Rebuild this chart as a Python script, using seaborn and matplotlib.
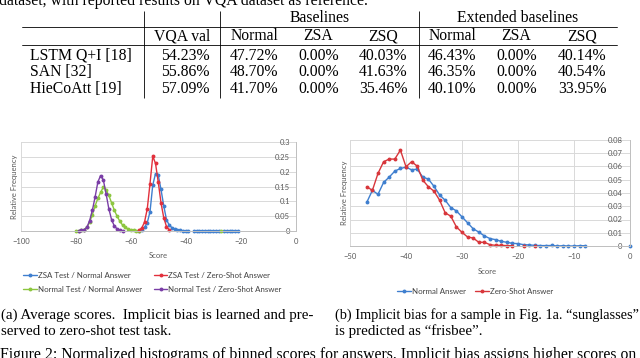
import matplotlib
matplotlib.use("Agg")
import matplotlib.pyplot as plt
import seaborn as sns
import numpy as np
import pandas as pd

# ---------------- table at the top of the page ----------------
row_names = ["LSTM Q+I [18]", "SAN [32]", "HieCoAtt [19]"]
col_names = ["VQA val", "Normal", "ZSA", "ZSQ", "Normal", "ZSA", "ZSQ"]
vqa_val = ["54.23%", "55.86%", "57.09%"]
base_normal = ["47.72%", "48.70%", "41.70%"]
base_zsa = ["0.00%", "0.00%", "0.00%"]
base_zsq = ["40.03%", "41.63%", "35.46%"]
ext_normal = ["46.43%", "46.35%", "40.10%"]
ext_zsa = ["0.00%", "0.00%", "0.00%"]
ext_zsq = ["40.14%", "40.54%", "33.95%"]

# ---------------- (a) average scores ----------------
a_labels = ["ZSA Test / Normal Answer", "Normal Test / Normal Answer",
            "ZSA Test / Zero-Shot Answer", "Normal Test / Zero-Shot Answer"]
a_colors = ["#3f7fcf", "#8cc63f", "#e2303c", "#7a3ea6"]

a_zsa_normal_x = list(range(-57, -38)) + list(range(-37, -27)) + list(range(-26, -20))
a_zsa_normal_y = [0.001, 0.004, 0.012, 0.028, 0.065, 0.155, 0.193, 0.188, 0.140, 0.085,
                  0.038, 0.020, 0.011, 0.006, 0.003, 0.002, 0.001, 0.001, 0.0005,
                  0.001, 0.0005, 0.0, 0.001, 0.0005, 0.0, 0.0005, 0.0, 0.0005, 0.0,
                  0.0005, 0.0, 0.0005, 0.0, 0.0005, 0.0]
a_normal_normal_x = list(range(-80, -56)) + [-27]
a_normal_normal_y = [0.0, 0.001, 0.002, 0.005, 0.012, 0.030, 0.055, 0.085, 0.110, 0.130,
                     0.148, 0.138, 0.120, 0.095, 0.070, 0.050, 0.033, 0.020, 0.012, 0.007,
                     0.004, 0.002, 0.001, 0.0, 0.0]
a_zsa_zs_x = list(range(-57, -45))
a_zsa_zs_y = [0.003, 0.010, 0.030, 0.075, 0.160, 0.252, 0.228, 0.165, 0.095, 0.045,
              0.015, 0.004]
a_normal_zs_x = list(range(-79, -62))
a_normal_zs_y = [0.001, 0.002, 0.004, 0.012, 0.035, 0.070, 0.115, 0.165, 0.187, 0.172,
                 0.125, 0.075, 0.038, 0.017, 0.007, 0.003, 0.001]

# ---------------- (b) single sample ----------------
b_labels = ["Normal Answer", "Zero-Shot Answer"]
b_colors = ["#3f7fcf", "#d8363b"]
b_normal_x = list(range(-47, -7)) + [0]
b_normal_y = [0.033, 0.042, 0.039, 0.048, 0.052, 0.0565, 0.0585, 0.0595, 0.0575, 0.058,
              0.052, 0.0505, 0.045, 0.0385, 0.0345, 0.029, 0.0265, 0.022, 0.0175, 0.013,
              0.0105, 0.0076, 0.0056, 0.0048, 0.0035, 0.0028, 0.002, 0.0018, 0.001, 0.0008,
              0.0005, 0.0003, 0.0003, 0.0004, 0.0, 0.0002, 0.0, 0.0, 0.0002, 0.0002,
              0.0]
b_zs_x = list(range(-47, -20)) + [-19, -17]
b_zs_y = [0.0447, 0.042, 0.0548, 0.0636, 0.0656, 0.0656, 0.0724, 0.0598, 0.0636, 0.0603,
          0.0497, 0.0447, 0.0414, 0.0346, 0.025, 0.0225, 0.0144, 0.0103, 0.0068, 0.006,
          0.0028, 0.0028, 0.001, 0.0005, 0.0005, 0.0003, 0.0002, 0.0002, 0.0]


def to_frame(xs, ys, labels):
    parts = []
    for x, y, lab in zip(xs, ys, labels):
        d = pd.DataFrame({"score": x, "freq": y, "series": lab})
        # break the line where bins are missing
        d["seg"] = np.cumsum(np.r_[0, np.diff(d["score"]) > 1])
        parts.append(d)
    return pd.concat(parts, ignore_index=True)


df_a = to_frame([a_zsa_normal_x, a_normal_normal_x, a_zsa_zs_x, a_normal_zs_x],
                [a_zsa_normal_y, a_normal_normal_y, a_zsa_zs_y, a_normal_zs_y], a_labels)
df_b = to_frame([b_normal_x, b_zs_x], [b_normal_y, b_zs_y], b_labels)

sns.set_style("white")
plt.rcParams["font.family"] = ["Lato", "DejaVu Sans"]

W, H = 640, 358
fig = plt.figure(figsize=(6.4, 3.58), dpi=100)

# page layer in pixel coordinates for the paper text
page = fig.add_axes([0, 0, 1, 1], zorder=-1)
page.set_xlim(0, W)
page.set_ylim(H, 0)
page.axis("off")
serif = dict(family=["Liberation Serif", "DejaVu Serif"], fontsize=11.3, color="black")
cap = dict(serif, fontsize=10.8)

page.text(-1, 5, "dataset, with reported results on VQA dataset as reference.", va="baseline", **serif)
page.text(320, 22, "Baselines", ha="center", va="baseline", **serif)
page.text(517.5, 22, "Extended baselines", ha="center", va="baseline", **serif)
page.plot([22, 617], [27, 27], color="black", lw=0.6)
page.plot([22, 617], [45, 45], color="black", lw=0.6)
page.vlines([144, 220, 419], 11, 98, color="black", lw=0.6)

col_x = [210, 254, 318.5, 383, 452.5, 516.5, 582]
col_ha = ["right"] + ["center"] * 6
columns = [vqa_val, base_normal, base_zsa, base_zsq, ext_normal, ext_zsa, ext_zsq]
for name, cx, ha in zip(col_names, col_x, col_ha):
    page.text(cx, 40.5, name, ha=ha, va="baseline", **serif)
row_y = [60, 76.5, 93]
for i, ry in enumerate(row_y):
    page.text(30, ry, row_names[i], ha="left", va="baseline", **serif)
    for col, cx, ha in zip(columns, col_x, col_ha):
        page.text(cx, ry, col[i], ha=ha, va="baseline", **serif)

page.text(1, 319, "(a) Average scores.  Implicit bias is learned and pre-", va="baseline", **cap)
page.text(1, 335, "served to zero-shot test task.", va="baseline", **cap)
page.text(335, 319, "(b) Implicit bias for a sample in Fig. 1a. \u201csunglasses\u201d", va="baseline",
          **dict(cap, fontsize=10.3))
page.text(335, 335, "is predicted as \u201cfrisbee\u201d.", va="baseline", **cap)
page.text(0, 359, "Figure 2: Normalized histograms of binned scores for answers. Implicit bias assigns higher scores on",
          va="baseline", **dict(cap, fontsize=11.3))

txt = "#595959"
fs = 5.5
leg_fs = 5.7


def style_chart(ax, xticks, yticks, ypad, vgrid):
    ax.set_xticks(xticks)
    ax.set_yticks(yticks)
    ax.set_yticklabels([f"{round(v, 3):g}" for v in yticks])
    ax.yaxis.tick_right()
    ax.tick_params(axis="both", length=0, labelsize=fs, labelcolor=txt)
    ax.tick_params(axis="x", pad=5)
    ax.tick_params(axis="y", pad=ypad)
    for t in ax.yaxis.get_major_ticks():
        t.label2.set_horizontalalignment("right")
    ax.grid(axis="y", color="#d9d9d9", lw=0.7)
    if vgrid:
        ax.grid(axis="x", color="#d9d9d9", lw=0.7)
    ax.set_axisbelow(True)
    ax.spines["top"].set_visible(False)
    ax.spines["left"].set_color("#d9d9d9")
    ax.spines["right"].set_color("#bfbfbf")
    ax.spines["bottom"].set_color("#bfbfbf")
    for s in ax.spines.values():
        s.set_linewidth(0.7)


# ---- chart (a) ----
ax_a = fig.add_axes([21 / W, 1 - 231 / H, 274.5 / W, 89 / H])
sns.lineplot(data=df_a, x="score", y="freq", hue="series", hue_order=a_labels,
             palette=dict(zip(a_labels, a_colors)), units="seg", estimator=None,
             marker="o", markersize=2.8, markeredgewidth=0, linewidth=1.0,
             clip_on=False, ax=ax_a)
ax_a.set_xlim(-100, 0)
ax_a.set_ylim(0, 0.3)
style_chart(ax_a, range(-100, 1, 20), np.arange(0, 0.301, 0.05), -4, False)
ax_a.set_xlabel("Score", fontsize=fs, color=txt, va="center")
ax_a.xaxis.set_label_coords(0.5, -24 / 89)
ax_a.set_ylabel("Relative Frequency", fontsize=fs, color=txt, va="center")
ax_a.yaxis.set_label_coords(-6 / 274.5, 0.5)
sns.move_legend(ax_a, "upper left", bbox_to_anchor=(23 / W, 1 - 272 / H),
                bbox_transform=fig.transFigure, ncol=2, frameon=False, title=None,
                fontsize=leg_fs, labelcolor="#404040", handlelength=1.75, handletextpad=0.1,
                labelspacing=0.85, columnspacing=1.5, borderpad=0, borderaxespad=0)

# ---- chart (b) ----
ax_b = fig.add_axes([350 / W, 1 - 246 / H, 280 / W, 106 / H])
sns.lineplot(data=df_b, x="score", y="freq", hue="series", hue_order=b_labels,
             palette=dict(zip(b_labels, b_colors)), units="seg", estimator=None,
             marker="o", markersize=2.8, markeredgewidth=0, linewidth=1.0,
             clip_on=False, ax=ax_b)
ax_b.set_xlim(-50, 0)
ax_b.set_ylim(0, 0.08)
style_chart(ax_b, range(-50, 1, 10), np.arange(0, 0.0801, 0.01), -5.5, True)
ax_b.set_xlabel("Score", fontsize=fs, color=txt, va="center")
ax_b.xaxis.set_label_coords((487 - 350) / 280, -25 / 106)
ax_b.set_ylabel("Relative Frequency", fontsize=fs, color=txt, va="center")
ax_b.yaxis.set_label_coords(-5 / 280, 0.5)
sns.move_legend(ax_b, "upper left", bbox_to_anchor=(397 / W, 1 - 288 / H),
                bbox_transform=fig.transFigure, ncol=2, frameon=False, title=None,
                fontsize=leg_fs, labelcolor="#404040", handlelength=1.75, handletextpad=0.1,
                columnspacing=1.2, borderpad=0, borderaxespad=0)

fig.savefig("out.png", dpi=100)
